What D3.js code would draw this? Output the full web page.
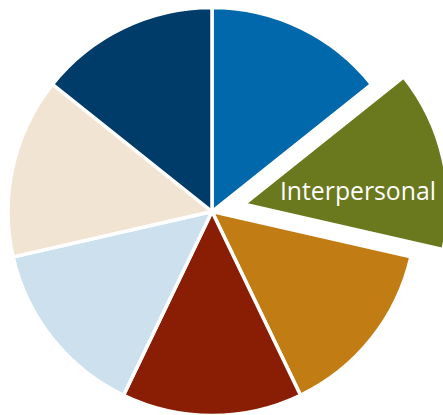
<!DOCTYPE html>
<html>
<head>
<meta charset="utf-8">
<script src="https://cdn.jsdelivr.net/npm/d3@7"></script>
<style>
  body { margin: 0; background: #fff; }
</style>
</head>
<body>
<script>
// seven equal segments, clockwise from 12 o'clock
const categories = ["A", "Interpersonal", "C", "D", "E", "F", "G"];
const values = [1, 1, 1, 1, 1, 1, 1];
const labels = ["", "Interpersonal", "", "", "", "", ""];
const colors = ["#0068ab", "#6a781e", "#c27c14", "#8a1e04", "#cce0ee", "#f2e4d2", "#003c69"];
const exploded = "Interpersonal";

function main() {
    const width = 443;
    const height = 415;
    const cx = 212, cy = 211.5;
    const radius = 204;
    const offset = 33;

    const svg = d3.select("body").append("svg")
        .attr("width", width)
        .attr("height", height);

    const g = svg.append("g")
        .attr("transform", "translate(" + cx + "," + cy + ")");

    const data = categories.map((c, i) => ({ name: c, value: values[i], label: labels[i], color: colors[i] }));

    const pie = d3.pie().value(d => d.value).sort(null);
    const arc = d3.arc().innerRadius(0).outerRadius(radius);

    const arcs = pie(data);

    function shift(d) {
        if (d.data.name !== exploded) return [0, 0];
        const a = (d.startAngle + d.endAngle) / 2;
        return [Math.sin(a) * offset, -Math.cos(a) * offset];
    }

    g.selectAll(".slice")
        .data(arcs)
        .enter()
        .append("path")
        .attr("class", "slice")
        .attr("d", arc)
        .attr("transform", d => "translate(" + shift(d) + ")")
        .style("fill", d => d.data.color)
        .style("stroke", "white")
        .style("stroke-width", 3.5)
        .style("stroke-linejoin", "miter");

    const labelArc = d3.arc().innerRadius(radius * 0.572).outerRadius(radius * 0.572);

    g.selectAll(".label")
        .data(arcs.filter(d => d.data.label))
        .enter()
        .append("text")
        .attr("class", "label")
        .attr("transform", d => {
            const c = labelArc.centroid(d);
            const s = shift(d);
            return "translate(" + (c[0] + s[0]) + "," + (c[1] + s[1] + 21.4) + ")";
        })
        .attr("text-anchor", "middle")
        .attr("textLength", 156)
        .attr("lengthAdjust", "spacingAndGlyphs")
        .style("font-family", "'Open Sans', sans-serif")
        .style("font-size", "25px")
        .style("fill", "white")
        .text(d => d.data.label);
}
main();
</script>
</body>
</html>
